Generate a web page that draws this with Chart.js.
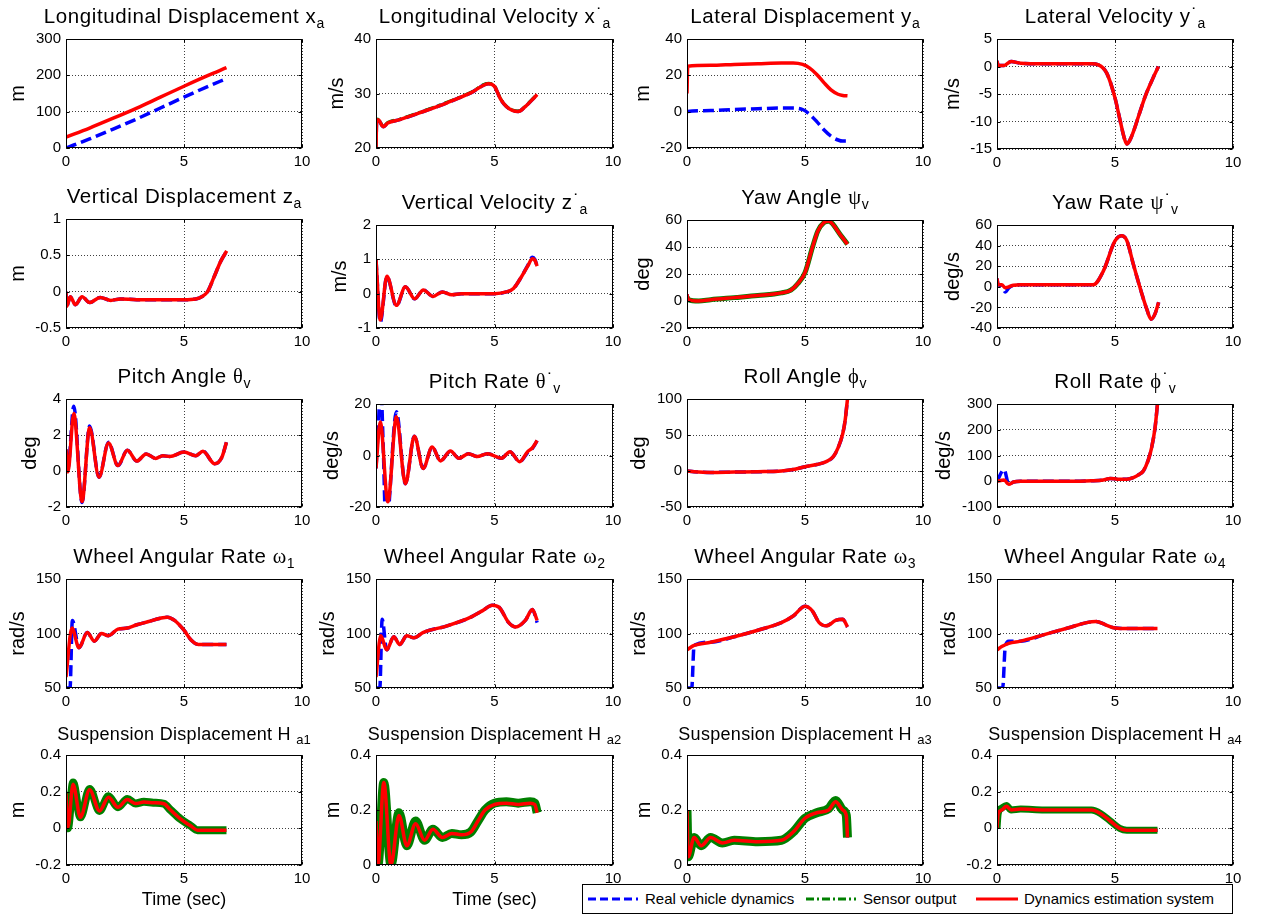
<!DOCTYPE html>
<html>
<head>
<meta charset="utf-8">
<title>Vehicle dynamics estimation</title>
<script src="https://cdn.jsdelivr.net/npm/chart.js@4.4.1/dist/chart.umd.min.js"></script>
<style>
  body { margin: 0; background: #fff; width: 1261px; height: 917px; position: relative; overflow: hidden;
         font-family: 'Liberation Sans', Arial, Helvetica, sans-serif; color: #000; }
  canvas { position: absolute; }
  .ttl { position: absolute; white-space: nowrap; font-size: 20.5px; line-height: 30px; letter-spacing: 0.6px;
         transform: translateX(-50%); }
  .ttl.small { font-size: 18px; letter-spacing: 0.3px; }
  .sub { font-size: 14px; position: relative; top: 5px; letter-spacing: 0; }
  .small .sub { font-size: 13px; top: 4px; }
  .dot { font-size: 18px; position: relative; top: -2px; margin-left: 1px; letter-spacing: 0; }
  .gk { font-family: 'Liberation Serif', 'DejaVu Serif', serif; }
  #legend { position: absolute; left: 582px; top: 884px; }
</style>
</head>
<body>
<svg id="legend" width="651" height="30">
  <rect x="0.5" y="0.5" width="650" height="29" fill="#fff" stroke="#000" stroke-width="1"/>
  <line x1="6" y1="15" x2="56" y2="15" stroke="#0000ff" stroke-width="3" stroke-dasharray="8 4"/>
  <text x="63" y="20" font-family="'Liberation Sans', Arial, sans-serif" font-size="15">Real vehicle dynamics</text>
  <line x1="224" y1="15" x2="274" y2="15" stroke="#008000" stroke-width="3" stroke-dasharray="8 3 2 3"/>
  <text x="281" y="20" font-family="'Liberation Sans', Arial, sans-serif" font-size="15">Sensor output</text>
  <line x1="394" y1="15" x2="436" y2="15" stroke="#ff0000" stroke-width="3"/>
  <text x="442" y="20" font-family="'Liberation Sans', Arial, sans-serif" font-size="15">Dynamics estimation system</text>
</svg>
<script>
// ---- tick labels ----
const timeTicks = [0, 5, 10];
const xDispTicks = [0, 100, 200, 300];
const xVelTicks = [20, 30, 40];
const yDispTicks = [-20, 0, 20, 40];
const yVelTicks = [-15, -10, -5, 0, 5];
const zDispTicks = [-0.5, 0, 0.5, 1];
const zVelTicks = [-1, 0, 1, 2];
const yawTicks = [-20, 0, 20, 40, 60];
const yawRateTicks = [-40, -20, 0, 20, 40, 60];
const pitchTicks = [-2, 0, 2, 4];
const pitchRateTicks = [-20, 0, 20];
const rollTicks = [-50, 0, 50, 100];
const rollRateTicks = [-100, 0, 100, 200, 300];
const wheelTicks = [50, 100, 150];
const suspTicks = [-0.2, 0, 0.2, 0.4];
const suspTicksPos = [0, 0.2, 0.4];

// ---- longitudinal ----
const xDispT = [0, 1, 2, 3, 4, 5, 6, 6.8];
const xDispReal = [0, 25, 52, 80, 110, 140, 169, 191];
const xDispEst = [30, 55, 82, 110, 140, 170, 199, 221];

const xVelT = [0, 0.03, 0.12, 0.3, 0.5, 1, 2, 3, 4, 4.75, 5.0, 5.25, 5.5, 5.75, 6.0, 6.3, 6.6, 6.8];
const xVelEst = [20, 25.2, 25.1, 23.9, 24.6, 25.2, 26.7, 28.3, 30.1, 31.8, 31.3, 29, 27.6, 26.9, 26.7, 27.6, 28.9, 29.8];
const xVelSensor = [20, 25.3, 25.2, 24.0, 24.7, 25.3, 26.8, 28.4, 30.2, 31.9, 31.4, 29.1, 27.7, 27.0, 26.8, 27.7, 29.0, 29.9];

// ---- lateral ----
const yDispT = [0, 0.03, 1, 2, 3, 4, 4.5, 4.9, 5.2, 5.5, 5.8, 6.1, 6.4, 6.6, 6.8];
const yDispReal = [0, 0.1, 0.6, 1.2, 1.6, 2, 2, 1.2, -1.5, -5.5, -10, -13.5, -15.6, -16.2, -16.2];
const yDispEst = [10, 25, 25.5, 26, 26.4, 26.8, 26.8, 26, 24, 20.5, 16, 12, 9.6, 8.9, 8.7];

const yVelT = [0, 0.05, 0.3, 0.6, 1, 2, 3, 4, 4.3, 4.65, 5.0, 5.2, 5.38, 5.5, 5.63, 5.8, 6.0, 6.3, 6.6, 6.84];
const yVelEst = [1.0, 0.2, 0.2, 0.9, 0.6, 0.5, 0.5, 0.5, 0.3, -1.2, -5.7, -9.5, -12.8, -14.1, -13.4, -11.6, -9, -5.2, -2.2, 0];

// ---- vertical ----
const zDispT = [0, 0.03, 0.18, 0.4, 0.68, 1.0, 1.45, 1.9, 2.3, 3, 4, 5, 5.5, 5.75, 6.0, 6.27, 6.56, 6.81];
const zDispEst = [0, -0.2, -0.07, -0.18, -0.07, -0.15, -0.08, -0.12, -0.1, -0.11, -0.11, -0.11, -0.1, -0.07, 0.0, 0.2, 0.42, 0.56];

const zVelT = [0, 0.18, 0.46, 0.86, 1.24, 1.63, 2.0, 2.4, 2.8, 3.2, 3.6, 4.5, 5.0, 5.5, 5.8, 6.1, 6.4, 6.6, 6.7, 6.8];
const zVelReal = [1.0, -0.83, 0.5, -0.36, 0.2, -0.15, 0.11, -0.08, 0.05, -0.03, 0, 0, 0, 0.05, 0.15, 0.45, 0.82, 1.06, 1.0, 0.8];
const zVelEst = [1.0, -0.77, 0.51, -0.34, 0.2, -0.15, 0.11, -0.08, 0.05, -0.03, 0, 0, 0, 0.05, 0.15, 0.45, 0.8, 1.02, 0.98, 0.8];

// ---- yaw ----
const yawT = [0, 0.05, 0.5, 1, 2, 3, 4, 4.4, 4.7, 5.0, 5.32, 5.55, 5.8, 6.0, 6.5, 6.8];
const yawEst = [5, 1, 0, 1, 2.5, 4, 6, 8, 13, 21, 40, 52, 58, 59, 49, 42];
const yawSensor = [3, 1, 0, 1, 2.5, 4, 6, 8, 13, 21, 40, 52, 58, 59, 49, 42];

const yawRateT = [0, 0.05, 0.2, 0.35, 0.5, 0.7, 1, 2, 3, 4.08, 4.5, 5.0, 5.28, 5.5, 5.78, 6.14, 6.35, 6.53, 6.7, 6.85];
const yawRateReal = [8, 2, 1, -5, -1, 1.5, 2, 2, 2, 2, 15, 44.5, 49.5, 45, 21.6, -7, -22, -31.5, -26, -15];
const yawRateEst = [8, 2, 2, -1, 0, 1.5, 2, 2, 2, 2, 15, 44.5, 49.5, 45, 21.6, -7, -22, -31.5, -26, -15];

// ---- pitch ----
const pitchT = [0, 0.08, 0.33, 0.68, 1.0, 1.4, 1.8, 2.2, 2.6, 3.0, 3.4, 3.8, 4.1, 4.4, 5.0, 5.5, 5.8, 6.3, 6.6, 6.8];
const pitchReal = [1.2, 0.1, 3.6, -1.75, 2.5, -0.35, 1.6, 0.3, 1.15, 0.55, 0.95, 0.7, 0.85, 0.8, 1.05, 0.85, 1.1, 0.4, 0.75, 1.6];
const pitchEst = [1.2, -0.05, 3.2, -1.7, 2.4, -0.35, 1.55, 0.3, 1.15, 0.55, 0.95, 0.7, 0.85, 0.8, 1.05, 0.85, 1.1, 0.4, 0.75, 1.6];

const pitchRateT = [0, 0.18, 0.5, 0.86, 1.24, 1.62, 1.99, 2.37, 2.72, 3.14, 3.5, 3.9, 4.27, 4.7, 5.3, 5.65, 6.06, 6.4, 6.6, 6.8];
const pitchRateEst = [-5, 13, -18, 15, -11, 7.5, -5, 3.3, -2.1, 1.7, -1.1, 0.7, -0.4, 0.7, -1.1, 1.5, -2.4, 1.5, 3, 5.8];
const pitchRateRealT = [0, 0.1, 0.2, 0.3, 0.42, 0.52, 0.86, 1.24, 1.62, 1.99, 2.37, 2.72, 3.14, 3.5, 3.9, 4.27, 4.7, 5.3, 5.65, 6.06, 6.4, 6.6, 6.8];
const pitchRateReal = [-5, 12, 28, 5, -28, -22, 17, -11, 7.5, -5, 3.3, -2.1, 1.7, -1.1, 0.7, -0.4, 0.7, -1.1, 1.5, -2.4, 1.2, 2.8, 5.8];

// ---- roll ----
const rollT = [0, 0.3, 1, 2, 3, 4, 4.5, 5.0, 5.5, 5.9, 6.2, 6.4, 6.6, 6.7, 6.8];
const rollEst = [0, -1, -2, -1.5, -1, 0, 2, 6, 9, 13, 20, 32, 52, 70, 100];

const rollRateT = [0, 0.3, 0.5, 0.7, 1, 2, 3, 4, 4.5, 4.8, 5.1, 5.5, 5.8, 6.0, 6.2, 6.4, 6.55, 6.7, 6.8];
const rollRateReal = [0, 45, -12, -3, 0, 0, 0, 2, 5, 11, 8, 8, 15, 25, 40, 80, 130, 210, 300];
const rollRateEst = [0, 5, -12, -3, 0, 0, 0, 2, 5, 11, 8, 8, 15, 25, 40, 80, 130, 210, 300];

// ---- wheel angular rates ----
const wheel1T = [0, 0.25, 0.55, 0.9, 1.2, 1.5, 1.8, 2.2, 2.6, 3.0, 3.5, 4.0, 4.3, 4.6, 5.0, 5.3, 5.6, 6.8];
const wheel1Est = [60, 105, 87, 101, 93, 100, 98, 104, 105, 108, 111, 114, 115, 112, 103, 94, 90, 90];
const wheel1RealT = [0, 0.17, 0.27, 0.55, 0.9, 1.2, 1.5, 1.8, 2.2, 2.6, 3.0, 3.5, 4.0, 4.3, 4.6, 5.0, 5.3, 5.6, 6.8];
const wheel1Real = [50, 50, 112, 87, 101, 93, 100, 98, 104, 105, 108, 111, 114, 115, 112, 103, 94, 90, 90];

const wheel2T = [0, 0.2, 0.45, 0.75, 1.0, 1.3, 1.6, 2, 3, 4, 4.5, 4.9, 5.2, 5.6, 5.9, 6.3, 6.6, 6.8];
const wheel2Est = [60, 98, 85, 97, 90, 98, 96, 101, 107, 115, 121, 126, 124, 110, 106, 112, 122, 112];
const wheel2RealT = [0, 0.16, 0.26, 0.45, 0.75, 1.0, 1.3, 1.6, 2, 3, 4, 4.5, 4.9, 5.2, 5.6, 5.9, 6.3, 6.6, 6.8];
const wheel2Real = [50, 50, 113, 85, 97, 90, 98, 96, 101, 107, 115, 121, 126, 124, 110, 106, 112, 122, 110];

const wheel3T = [0, 0.3, 1, 2, 3, 4, 4.5, 5.0, 5.3, 5.6, 5.9, 6.3, 6.6, 6.8];
const wheel3Est = [85, 89, 92, 97, 103, 110, 116, 125, 121, 110, 107, 112, 113, 106];
const wheel3RealT = [0, 0.2, 0.3, 1, 2, 3, 4, 4.5, 5.0, 5.3, 5.6, 5.9, 6.3, 6.6, 6.8];
const wheel3Real = [50, 50, 89, 92, 97, 103, 110, 116, 125, 121, 110, 107, 112, 113, 106];

const wheel4T = [0, 0.2, 0.5, 1, 2, 3, 3.8, 4.2, 4.6, 5.0, 5.5, 6.8];
const wheel4Est = [85, 88, 91, 93, 99, 105, 110, 111, 108, 105, 104.5, 104.5];
const wheel4RealT = [0, 0.24, 0.35, 0.5, 1, 2, 3, 3.8, 4.2, 4.6, 5.0, 5.5, 6.8];
const wheel4Real = [50, 50, 88, 93, 93, 99, 105, 110, 111, 108, 105, 104.5, 104.5];

// ---- suspension displacement ----
const susp1T = [0, 0.08, 0.3, 0.61, 1.0, 1.42, 1.8, 2.2, 2.6, 2.95, 3.3, 3.7, 4.15, 4.43, 4.86, 5.28, 5.57, 6.0, 6.8];
const susp1Est = [0.19, 0.005, 0.24, 0.06, 0.21, 0.095, 0.17, 0.115, 0.157, 0.135, 0.143, 0.14, 0.134, 0.1, 0.05, 0.014, -0.01, -0.01, -0.01];
const susp1Sensor = [0.2, 0.0, 0.25, 0.06, 0.215, 0.095, 0.175, 0.115, 0.16, 0.135, 0.145, 0.14, 0.134, 0.1, 0.05, 0.014, -0.01, -0.01, -0.01];

const susp2T = [0, 0.08, 0.33, 0.63, 0.97, 1.3, 1.67, 2.05, 2.4, 2.8, 3.2, 3.6, 4.0, 4.3, 4.6, 5.0, 5.5, 6.0, 6.5, 6.7, 6.8];
const susp2Est = [0.16, 0.0, 0.3, 0.0, 0.18, 0.07, 0.15, 0.09, 0.13, 0.1, 0.115, 0.11, 0.12, 0.16, 0.2, 0.22, 0.225, 0.22, 0.225, 0.22, 0.19];
const susp2Sensor = [0.16, 0.0, 0.3, 0.0, 0.19, 0.07, 0.16, 0.09, 0.13, 0.1, 0.115, 0.11, 0.12, 0.16, 0.2, 0.225, 0.23, 0.225, 0.23, 0.225, 0.19];

const susp3T = [0, 0.05, 0.3, 0.6, 1.0, 1.5, 2, 3, 4, 4.5, 5.0, 5.5, 6.0, 6.3, 6.6, 6.75, 6.8];
const susp3Est = [0.2, 0.03, 0.1, 0.07, 0.1, 0.08, 0.09, 0.085, 0.09, 0.12, 0.17, 0.19, 0.2, 0.23, 0.2, 0.18, 0.1];
const susp3Sensor = [0.2, 0.03, 0.1, 0.07, 0.1, 0.08, 0.09, 0.085, 0.09, 0.12, 0.17, 0.19, 0.205, 0.235, 0.2, 0.18, 0.1];

const susp4T = [0, 0.05, 0.2, 0.4, 0.6, 1, 2, 3, 4, 4.4, 4.8, 5.2, 5.5, 6.8];
const susp4Est = [0, 0.08, 0.1, 0.12, 0.1, 0.105, 0.1, 0.1, 0.1, 0.08, 0.04, 0.0, -0.01, -0.01];
const susp4Sensor = [0, 0.08, 0.11, 0.125, 0.1, 0.105, 0.1, 0.1, 0.1, 0.08, 0.04, 0.0, -0.01, -0.01];

// ---- layout ----
const FONT = "'Liberation Sans', Arial, Helvetica, sans-serif";
const COLS = [[66, 302], [376, 613], [687, 923], [997, 1233]];

const STYLE = {
  real:   { borderColor: '#0000ff', borderWidth: 3.5, borderDash: [11, 5], order: 2 },
  sensor: { borderColor: '#008000', borderWidth: 3, borderDash: [10, 4, 3, 4], order: 1 },
  est:    { borderColor: '#ff0000', borderWidth: 3.5, borderDash: [], order: 0 }
};

const sub = s => '<span class="sub">' + s + '</span>';
const dot = '<span class="dot">˙</span>';
const gk = s => '<span class="gk">' + s + '</span>';

const plots = [
  { col: 0, top: 37, bottom: 148, title: 'Longitudinal Displacement x' + sub('a'), ylabel: 'm', yTicks: xDispTicks,
    series: [{ kind: 'real', t: xDispT, v: xDispReal }, { kind: 'est', t: xDispT, v: xDispEst }] },
  { col: 1, top: 37, bottom: 148, title: 'Longitudinal Velocity x' + dot + sub('a'), ylabel: 'm/s', yTicks: xVelTicks,
    series: [{ kind: 'real', t: xVelT, v: xVelEst }, { kind: 'sensor', t: xVelT, v: xVelSensor }, { kind: 'est', t: xVelT, v: xVelEst }] },
  { col: 2, top: 37, bottom: 148, title: 'Lateral Displacement y' + sub('a'), ylabel: 'm', yTicks: yDispTicks,
    series: [{ kind: 'real', t: yDispT, v: yDispReal }, { kind: 'est', t: yDispT, v: yDispEst }] },
  { col: 3, top: 37, bottom: 149, title: 'Lateral Velocity y' + dot + sub('a'), ylabel: 'm/s', yTicks: yVelTicks,
    series: [{ kind: 'real', t: yVelT, v: yVelEst }, { kind: 'est', t: yVelT, v: yVelEst }] },

  { col: 0, top: 217, bottom: 328, title: 'Vertical Displacement z' + sub('a'), ylabel: 'm', yTicks: zDispTicks,
    series: [{ kind: 'real', t: zDispT, v: zDispEst }, { kind: 'est', t: zDispT, v: zDispEst }] },
  { col: 1, top: 223, bottom: 328, title: 'Vertical Velocity z' + dot + sub('a'), ylabel: 'm/s', yTicks: zVelTicks,
    series: [{ kind: 'real', t: zVelT, v: zVelReal }, { kind: 'est', t: zVelT, v: zVelEst }] },
  { col: 2, top: 218, bottom: 328, title: 'Yaw Angle ' + gk('ψ') + sub('v'), ylabel: 'deg', yTicks: yawTicks,
    series: [{ kind: 'real', t: yawT, v: yawEst }, { kind: 'sensor', t: yawT, v: yawSensor, band: 5 }, { kind: 'est', t: yawT, v: yawEst }] },
  { col: 3, top: 223, bottom: 328, title: 'Yaw Rate ' + gk('ψ') + dot + sub('v'), ylabel: 'deg/s', yTicks: yawRateTicks,
    series: [{ kind: 'real', t: yawRateT, v: yawRateReal }, { kind: 'est', t: yawRateT, v: yawRateEst }] },

  { col: 0, top: 397, bottom: 507, title: 'Pitch Angle ' + gk('θ') + sub('v'), ylabel: 'deg', yTicks: pitchTicks,
    series: [{ kind: 'real', t: pitchT, v: pitchReal }, { kind: 'est', t: pitchT, v: pitchEst }] },
  { col: 1, top: 402, bottom: 507, title: 'Pitch Rate ' + gk('θ') + dot + sub('v'), ylabel: 'deg/s', yTicks: pitchRateTicks,
    series: [{ kind: 'real', t: pitchRateRealT, v: pitchRateReal }, { kind: 'est', t: pitchRateT, v: pitchRateEst }] },
  { col: 2, top: 397, bottom: 507, title: 'Roll Angle ' + gk('ϕ') + sub('v'), ylabel: 'deg', yTicks: rollTicks,
    series: [{ kind: 'real', t: rollT, v: rollEst }, { kind: 'est', t: rollT, v: rollEst }] },
  { col: 3, top: 402, bottom: 507, title: 'Roll Rate ' + gk('ϕ') + dot + sub('v'), ylabel: 'deg/s', yTicks: rollRateTicks,
    series: [{ kind: 'real', t: rollRateT, v: rollRateReal }, { kind: 'est', t: rollRateT, v: rollRateEst }] },

  { col: 0, top: 577, bottom: 688, title: 'Wheel Angular Rate ' + gk('ω') + sub('1'), ylabel: 'rad/s', yTicks: wheelTicks,
    series: [{ kind: 'real', t: wheel1RealT, v: wheel1Real }, { kind: 'est', t: wheel1T, v: wheel1Est }] },
  { col: 1, top: 577, bottom: 688, title: 'Wheel Angular Rate ' + gk('ω') + sub('2'), ylabel: 'rad/s', yTicks: wheelTicks,
    series: [{ kind: 'real', t: wheel2RealT, v: wheel2Real }, { kind: 'est', t: wheel2T, v: wheel2Est }] },
  { col: 2, top: 577, bottom: 688, title: 'Wheel Angular Rate ' + gk('ω') + sub('3'), ylabel: 'rad/s', yTicks: wheelTicks,
    series: [{ kind: 'real', t: wheel3RealT, v: wheel3Real }, { kind: 'est', t: wheel3T, v: wheel3Est }] },
  { col: 3, top: 577, bottom: 688, title: 'Wheel Angular Rate ' + gk('ω') + sub('4'), ylabel: 'rad/s', yTicks: wheelTicks,
    series: [{ kind: 'real', t: wheel4RealT, v: wheel4Real }, { kind: 'est', t: wheel4T, v: wheel4Est }] },

  { col: 0, top: 753, bottom: 865, small: true, title: 'Suspension Displacement H ' + sub('a1'), ylabel: 'm', yTicks: suspTicks, xlabel: 'Time (sec)',
    series: [{ kind: 'real', t: susp1T, v: susp1Est }, { kind: 'sensor', t: susp1T, v: susp1Sensor, band: 8 }, { kind: 'est', t: susp1T, v: susp1Est }] },
  { col: 1, top: 753, bottom: 865, small: true, title: 'Suspension Displacement H ' + sub('a2'), ylabel: 'm', yTicks: suspTicksPos, xlabel: 'Time (sec)',
    series: [{ kind: 'real', t: susp2T, v: susp2Est }, { kind: 'sensor', t: susp2T, v: susp2Sensor, band: 9 }, { kind: 'est', t: susp2T, v: susp2Est }] },
  { col: 2, top: 753, bottom: 865, small: true, title: 'Suspension Displacement H ' + sub('a3'), ylabel: 'm', yTicks: suspTicksPos,
    series: [{ kind: 'real', t: susp3T, v: susp3Est }, { kind: 'sensor', t: susp3T, v: susp3Sensor, band: 9 }, { kind: 'est', t: susp3T, v: susp3Est }] },
  { col: 3, top: 753, bottom: 865, small: true, title: 'Suspension Displacement H ' + sub('a4'), ylabel: 'm', yTicks: suspTicks,
    series: [{ kind: 'real', t: susp4T, v: susp4Est }, { kind: 'sensor', t: susp4T, v: susp4Sensor, band: 7 }, { kind: 'est', t: susp4T, v: susp4Est }] }
];

// full box with inward tick marks, like a classic axes frame
const axesBox = {
  id: 'axesBox',
  afterDraw(chart) {
    const { ctx, chartArea: a, scales: { x, y } } = chart;
    ctx.save();
    ctx.strokeStyle = '#000';
    ctx.lineWidth = 1;
    const l = Math.round(a.left) + 0.5, r = Math.round(a.right) - 0.5;
    const t = Math.round(a.top) + 0.5, b = Math.round(a.bottom) - 0.5;
    ctx.strokeRect(l, t, r - l, b - t);
    ctx.beginPath();
    x.ticks.forEach(tk => {
      const px = Math.round(x.getPixelForValue(tk.value)) + 0.5;
      ctx.moveTo(px, b); ctx.lineTo(px, b - 3);
      ctx.moveTo(px, t); ctx.lineTo(px, t + 3);
    });
    y.ticks.forEach(tk => {
      const py = Math.round(y.getPixelForValue(tk.value)) + 0.5;
      ctx.moveTo(l, py); ctx.lineTo(l + 3, py);
      ctx.moveTo(r, py); ctx.lineTo(r - 3, py);
    });
    ctx.stroke();
    ctx.restore();
  }
};

const meas = document.createElement('canvas').getContext('2d');
meas.font = '15px ' + FONT;

const pts = (t, v) => t.map((x, i) => ({ x: x, y: v[i] }));

plots.forEach(p => {
  const [L, R] = COLS[p.col];
  const padTop = 12, padRight = 16;
  const xH = p.xlabel ? 46 : 26;
  const lw = Math.max(...p.yTicks.map(v => meas.measureText(String(v)).width));
  const W = Math.ceil(lw) + 34;

  const cv = document.createElement('canvas');
  cv.width = W + (R - L) + padRight;
  cv.height = padTop + (p.bottom - p.top) + xH;
  cv.style.left = (L - W) + 'px';
  cv.style.top = (p.top - padTop) + 'px';
  document.body.appendChild(cv);

  const ttl = document.createElement('div');
  ttl.className = 'ttl' + (p.small ? ' small' : '');
  ttl.innerHTML = p.title;
  ttl.style.left = ((L + R) / 2) + 'px';
  ttl.style.top = (p.top - (p.small ? 34 : 36)) + 'px';
  document.body.appendChild(ttl);

  const datasets = p.series.map(s => {
    const st = STYLE[s.kind];
    return {
      data: pts(s.t, s.v),
      borderColor: st.borderColor,
      borderWidth: s.band || st.borderWidth,
      borderDash: s.band ? [] : st.borderDash,
      order: st.order,
      pointRadius: 0,
      fill: false,
      cubicInterpolationMode: 'monotone'
    };
  });

  const tickFont = { family: FONT, size: 15 };
  const grid = { color: 'rgba(0,0,0,0.75)', lineWidth: 1, drawTicks: false };
  const border = { display: false, dash: [1, 2] };

  new Chart(cv, {
    type: 'line',
    data: { datasets },
    options: {
      responsive: false,
      animation: false,
      devicePixelRatio: 1,
      events: [],
      layout: { padding: { top: padTop, right: padRight, left: 0, bottom: 0 } },
      plugins: { legend: { display: false }, tooltip: { enabled: false } },
      scales: {
        x: {
          type: 'linear', min: 0, max: 10,
          afterBuildTicks: s => { s.ticks = timeTicks.map(v => ({ value: v })); },
          afterFit: s => { s.height = xH; },
          grid, border,
          ticks: { font: tickFont, color: '#000', padding: 5, maxRotation: 0, autoSkip: false, callback: v => String(v) },
          title: { display: !!p.xlabel, text: p.xlabel || '', color: '#000', font: { family: FONT, size: 18 }, padding: 0 }
        },
        y: {
          type: 'linear', min: p.yTicks[0], max: p.yTicks[p.yTicks.length - 1],
          afterBuildTicks: s => { s.ticks = p.yTicks.map(v => ({ value: v })); },
          afterFit: s => { s.width = W; },
          grid, border,
          ticks: { font: tickFont, color: '#000', padding: 5, autoSkip: false, callback: v => String(v) },
          title: { display: true, text: p.ylabel, color: '#000', font: { family: FONT, size: 20 }, padding: 0 }
        }
      }
    },
    plugins: [axesBox]
  });
});
</script>
</body>
</html>
